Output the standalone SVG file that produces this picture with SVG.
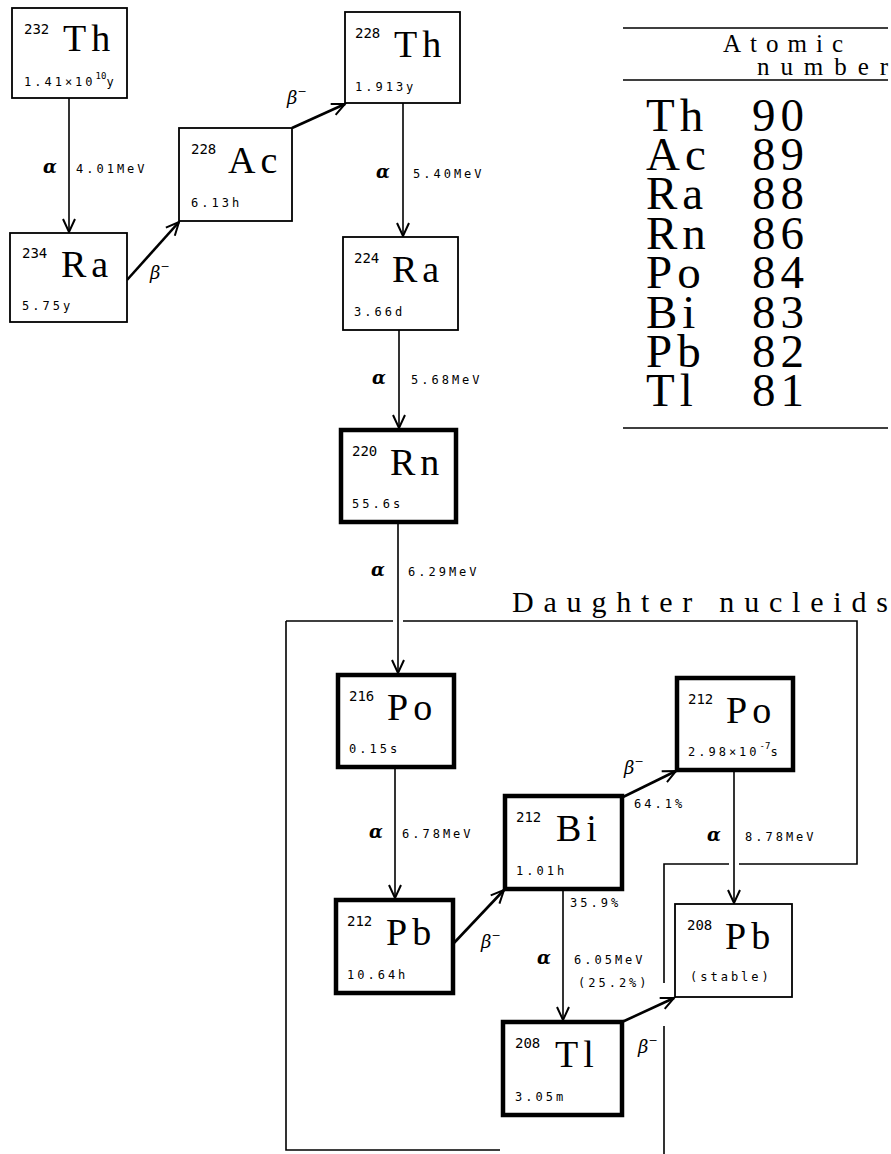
<svg xmlns="http://www.w3.org/2000/svg" width="891" height="1154" viewBox="0 0 891 1154">
<defs>
<marker id="ah" markerUnits="userSpaceOnUse" markerWidth="16" markerHeight="16" viewBox="-14 -8 16 16" refX="0" refY="0" orient="auto">
<path d="M-13,-6 L0,0 L-13,6" fill="none" stroke="#000" stroke-width="2"/>
</marker>
</defs>
<style>
.thin{fill:#fff;stroke:#000;stroke-width:1.8}
.thick{fill:#fff;stroke:#000;stroke-width:4.5}
.sup{font-family:"DejaVu Sans Mono",monospace;font-size:14px}
.sym{font-family:"Liberation Serif",serif;font-size:38px;letter-spacing:5px}
.hl{font-family:"DejaVu Sans Mono",monospace;font-size:12px;letter-spacing:3px}
.hs{font-family:"DejaVu Sans Mono",monospace;font-size:9px}
.en{font-family:"DejaVu Sans Mono",monospace;font-size:12px;letter-spacing:3px}
.al{font-family:"DejaVu Serif",serif;font-size:18px;font-weight:bold;font-style:italic}
.be{font-family:"DejaVu Serif",serif;font-size:18px;font-style:italic}
.bm{font-size:11px;font-style:normal}
.va{stroke:#000;stroke-width:1.6;fill:none}
.da{stroke:#000;stroke-width:2.6;fill:none}
.frame{stroke:#000;stroke-width:1.6;fill:none}
.tab{font-family:"Liberation Serif",serif;font-size:47px;letter-spacing:5px}
.hdr{font-family:"Liberation Serif",serif;font-size:25px}
</style>
<rect width="891" height="1154" fill="#fff"/>

<g id="frame">
<path class="frame" d="M286,621 V1150 H500 M286,621 H393 M403,621 H857 V864 H739 M729,864 H664 V983 M664,1026 V1154"/>
<text x="512" y="612" font-family="Liberation Serif,serif" font-size="30" textLength="376" lengthAdjust="spacing">Daughter nucleids</text>
</g>

<g id="table">
<path d="M623,28 H888 M623,80 H888 M623,428 H888" stroke="#000" stroke-width="1.6"/>
<text class="hdr" x="723" y="52" textLength="120" lengthAdjust="spacing">Atomic</text>
<text class="hdr" x="757" y="75" textLength="131" lengthAdjust="spacing">number</text>
<text class="tab"><tspan x="646" y="131">Th</tspan><tspan x="646" y="170">Ac</tspan><tspan x="646" y="209">Ra</tspan><tspan x="646" y="249">Rn</tspan><tspan x="646" y="288">Po</tspan><tspan x="646" y="328">Bi</tspan><tspan x="646" y="367">Pb</tspan><tspan x="646" y="406">Tl</tspan></text>
<text class="tab"><tspan x="752" y="131">90</tspan><tspan x="752" y="170">89</tspan><tspan x="752" y="209">88</tspan><tspan x="752" y="249">86</tspan><tspan x="752" y="288">84</tspan><tspan x="752" y="328">83</tspan><tspan x="752" y="367">82</tspan><tspan x="752" y="406">81</tspan></text>
</g>

<g id="connectors">
<line class="va" x1="69" y1="97" x2="69" y2="232" marker-end="url(#ah)"/>
<line class="da" x1="127" y1="280" x2="179" y2="222" marker-end="url(#ah)"/>
<line class="da" x1="292" y1="128" x2="345" y2="104" marker-end="url(#ah)"/>
<line class="va" x1="403" y1="103" x2="403" y2="236" marker-end="url(#ah)"/>
<line class="va" x1="399" y1="330" x2="399" y2="428" marker-end="url(#ah)"/>
<line class="va" x1="398" y1="522" x2="398" y2="673" marker-end="url(#ah)"/>
<line class="va" x1="395" y1="767" x2="395" y2="898" marker-end="url(#ah)"/>
<line class="da" x1="453" y1="944" x2="504" y2="890" marker-end="url(#ah)"/>
<line class="da" x1="623" y1="797" x2="676" y2="771" marker-end="url(#ah)"/>
<line class="va" x1="563" y1="889" x2="563" y2="1020" marker-end="url(#ah)"/>
<line class="va" x1="734" y1="770" x2="734" y2="903" marker-end="url(#ah)"/>
<line class="da" x1="622" y1="1022" x2="674" y2="998" marker-end="url(#ah)"/>
<text class="al" x="43" y="173">α</text><text class="en" x="76" y="173">4.01MeV</text>
<text class="be" x="150" y="279">β<tspan class="bm" dy="-9">−</tspan></text>
<text class="be" x="287" y="104">β<tspan class="bm" dy="-9">−</tspan></text>
<text class="al" x="376" y="178">α</text><text class="en" x="413" y="178">5.40MeV</text>
<text class="al" x="372" y="384">α</text><text class="en" x="411" y="384">5.68MeV</text>
<text class="al" x="371" y="576">α</text><text class="en" x="408" y="576">6.29MeV</text>
<text class="al" x="369" y="838">α</text><text class="en" x="402" y="838">6.78MeV</text>
<text class="be" x="481" y="948">β<tspan class="bm" dy="-9">−</tspan></text>
<text class="be" x="624" y="774">β<tspan class="bm" dy="-9">−</tspan></text>
<text class="en" x="634" y="808">64.1%</text>
<text class="al" x="707" y="841">α</text><text class="en" x="745" y="841">8.78MeV</text>
<text class="en" x="570" y="907">35.9%</text>
<text class="al" x="537" y="964">α</text><text class="en" x="574" y="964">6.05MeV</text>
<text class="en" x="578" y="987">(25.2%)</text>
<text class="be" x="638" y="1053">β<tspan class="bm" dy="-9">−</tspan></text>
</g>

<g id="th232">
<rect class="thin" x="12" y="8" width="115" height="90"/>
<text class="sup" x="24" y="34">232</text><text class="sym" x="63" y="51">Th</text>
<text class="hl" x="24" y="86">1.41×10<tspan class="hs" dy="-7" letter-spacing="0">10</tspan><tspan dy="7">y</tspan></text>
</g>
<g id="ra234">
<rect class="thin" x="10" y="233" width="117" height="89"/>
<text class="sup" x="22" y="258">234</text><text class="sym" x="61" y="277">Ra</text>
<text class="hl" x="22" y="310">5.75y</text>
</g>
<g id="ac228">
<rect class="thin" x="179" y="128" width="113" height="93"/>
<text class="sup" x="191" y="154">228</text><text class="sym" x="228" y="173">Ac</text>
<text class="hl" x="191" y="207">6.13h</text>
</g>
<g id="th228">
<rect class="thin" x="345" y="12" width="115" height="91"/>
<text class="sup" x="355" y="38">228</text><text class="sym" x="394" y="57">Th</text>
<text class="hl" x="355" y="91">1.913y</text>
</g>
<g id="ra224">
<rect class="thin" x="343" y="237" width="115" height="93"/>
<text class="sup" x="354" y="263">224</text><text class="sym" x="392" y="282">Ra</text>
<text class="hl" x="354" y="316">3.66d</text>
</g>
<g id="rn220">
<rect class="thick" x="341" y="430" width="115" height="92"/>
<text class="sup" x="352" y="456">220</text><text class="sym" x="390" y="475">Rn</text>
<text class="hl" x="352" y="508">55.6s</text>
</g>
<g id="po216">
<rect class="thick" x="338" y="675" width="116" height="92"/>
<text class="sup" x="349" y="701">216</text><text class="sym" x="387" y="720">Po</text>
<text class="hl" x="349" y="753">0.15s</text>
</g>
<g id="pb212">
<rect class="thick" x="336" y="900" width="117" height="93"/>
<text class="sup" x="347" y="926">212</text><text class="sym" x="386" y="945">Pb</text>
<text class="hl" x="347" y="979">10.64h</text>
</g>
<g id="bi212">
<rect class="thick" x="505" y="796" width="117" height="93"/>
<text class="sup" x="516" y="822">212</text><text class="sym" x="556" y="841">Bi</text>
<text class="hl" x="516" y="875">1.01h</text>
</g>
<g id="po212">
<rect class="thick" x="677" y="678" width="116" height="92"/>
<text class="sup" x="688" y="704">212</text><text class="sym" x="726" y="723">Po</text>
<text class="hl" x="688" y="756">2.98×10<tspan class="hs" dy="-7" letter-spacing="0">-7</tspan><tspan dy="7">s</tspan></text>
</g>
<g id="pb208">
<rect class="thin" x="675" y="904" width="117" height="93"/>
<text class="sup" x="687" y="930">208</text><text class="sym" x="725" y="949">Pb</text>
<text class="hl" x="690" y="981">(stable)</text>
</g>
<g id="tl208">
<rect class="thick" x="503" y="1022" width="119" height="93"/>
<text class="sup" x="515" y="1048">208</text><text class="sym" x="555" y="1067">Tl</text>
<text class="hl" x="515" y="1101">3.05m</text>
</g>
</svg>
